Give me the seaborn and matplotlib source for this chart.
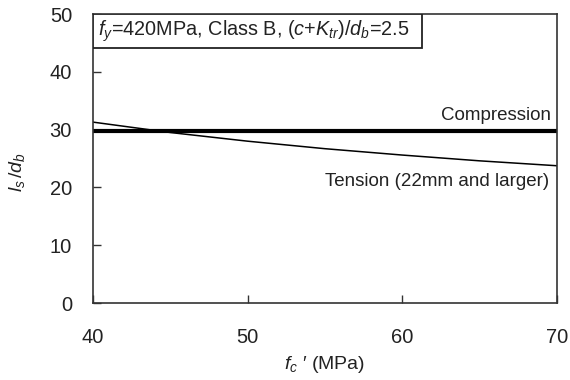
import matplotlib
matplotlib.use("Agg")
import matplotlib.pyplot as plt
import matplotlib.patches as mpatches
import seaborn as sns
import pandas as pd

fc = [40, 45, 50, 55, 60, 65, 70]
tension = [31.3, 29.5, 28.0, 26.7, 25.6, 24.6, 23.75]
compression = [29.8, 29.8, 29.8, 29.8, 29.8, 29.8, 29.8]
xticks = [40, 50, 60, 70]
yticks = [0, 10, 20, 30, 40, 50]

sns.set_theme(style="white")
plt.rcParams['font.family'] = ['Liberation Sans', 'DejaVu Sans']
plt.rcParams['mathtext.fontset'] = 'custom'
plt.rcParams['mathtext.it'] = 'Liberation Sans:italic'
plt.rcParams['mathtext.rm'] = 'Liberation Sans'

df = pd.DataFrame({"fc": fc, "tension": tension, "compression": compression})

fig = plt.figure(figsize=(5.7, 3.8), dpi=100)
ax = fig.add_axes([0.163, 0.2026, 0.814, 0.7605])

sns.lineplot(data=df, x="fc", y="compression", ax=ax, color="black", linewidth=3.0)
sns.lineplot(data=df, x="fc", y="tension", ax=ax, color="black", linewidth=1.1)

ax.set_xlim(40, 70)
ax.set_ylim(0, 50)
ax.set_xticks(xticks)
ax.set_yticks(yticks)
ax.tick_params(bottom=True, left=True, top=False, right=False,
               direction="in", length=6, width=1, colors="#333333",
               labelcolor="#222222", labelsize=14.5)
ax.tick_params(axis="x", pad=18)
ax.tick_params(axis="y", pad=15)
for s in ax.spines.values():
    s.set_color("#333333")
    s.set_linewidth(1.2)

ax.set_xlabel(r"$f_c$ ′ (MPa)", fontsize=14, color="#222222")
ax.xaxis.label.set_va("center")
ax.xaxis.set_label_coords(0.5, -0.213)
ax.set_ylabel(r"$l_s\,/d_b$", fontsize=14, color="#222222")
ax.yaxis.label.set_va("center")
ax.yaxis.set_label_coords(-0.164, 0.453)

ax.text(69.6, 31.0, "Compression", ha="right", va="bottom", fontsize=13.5, color="#222222")
ax.text(69.5, 21.1, "Tension (22mm and larger)", ha="right", va="center", fontsize=13.5, color="#222222")

rect = mpatches.Rectangle((0, 0.882), 0.709, 0.118, transform=ax.transAxes,
                          facecolor="white", edgecolor="#222222", linewidth=1.3, zorder=5)
ax.add_patch(rect)
ax.text(0.012, 0.941, r"$f_y$=420MPa, Class B, ($c$+$K_{tr}$)/$d_b$=2.5", transform=ax.transAxes,
        ha="left", va="center", fontsize=14.3, color="#222222", zorder=6)

fig.savefig("out.png", dpi=100)
